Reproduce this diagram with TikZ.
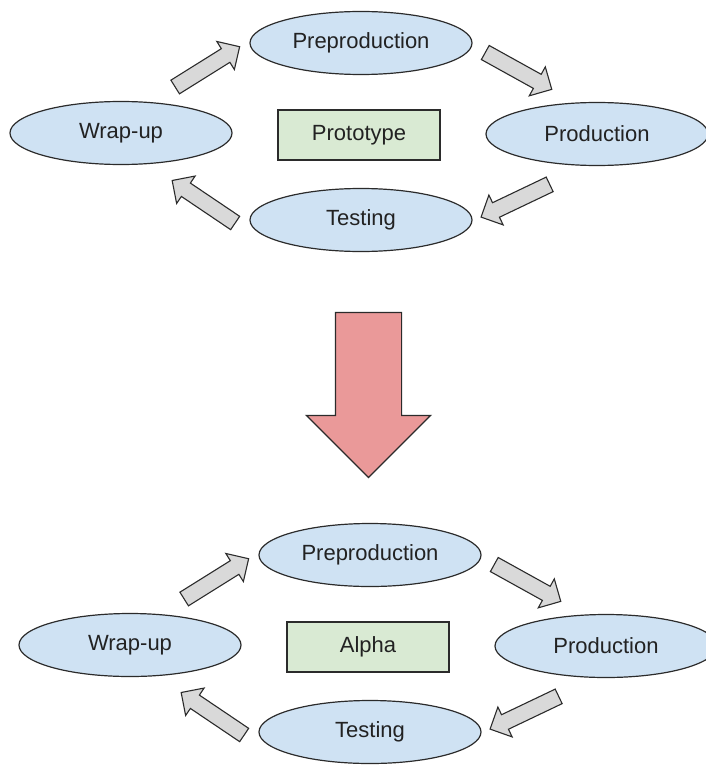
\documentclass[tikz,border=0pt]{standalone}
\usepackage{fontspec}
\setmainfont{Liberation Sans}
\usetikzlibrary{shapes.geometric,shapes.arrows}
\definecolor{phasefill}{HTML}{CFE2F3}
\definecolor{stagefill}{HTML}{D9EAD3}
\definecolor{stepfill}{HTML}{D9D9D9}
\definecolor{bigfill}{HTML}{EA9999}
\definecolor{edge}{HTML}{2B2B2B}
\definecolor{ink}{HTML}{222222}
\tikzset{
  phase/.style={ellipse, draw=edge, fill=phasefill, line width=1.2pt,
    minimum width=222pt, minimum height=63pt, inner sep=0pt,
    text=ink, font=\fontsize{22}{24}\selectfont},
  stage/.style={rectangle, draw=edge, fill=stagefill, line width=1.2pt,
    minimum width=162pt, minimum height=50pt, inner sep=0pt,
    text=ink, font=\fontsize{22}{24}\selectfont},
  steparrow/.style={single arrow, draw=edge, fill=stepfill, line width=1.1pt,
    inner sep=7.5pt, single arrow head extend=8.5pt, single arrow head indent=0pt,
    minimum height=76pt},
  bigarrow/.style={single arrow, draw=edge, fill=bigfill, line width=1.2pt,
    inner sep=32.5pt, single arrow head extend=29pt, single arrow head indent=0pt,
    minimum height=165pt}
}
% one production cycle: #1 = name prefix, #2 = label of the centre box
\newcommand{\drawcycle}[2]{%
  \node[phase] (#1pre)  at (361,43)  {Preproduction};
  \node[phase] (#1prod) at (597,134) {Production};
  \node[phase] (#1wrap) at (121,133) {Wrap-up};
  \node[phase] (#1test) at (361,220) {Testing};
  \node[stage] (#1box)  at (359,135) {#2};
  \node[steparrow, rotate=32]    (#1a1) at (204,69)  {};
  \node[steparrow, rotate=-29]   (#1a2) at (515,69)  {};
  \node[steparrow, rotate=205.5] (#1a3) at (519,199) {};
  \node[steparrow, rotate=146]   (#1a4) at (207,204) {};
}
\begin{document}
\begin{tikzpicture}[x=1pt,y=-1pt]
  \useasboundingbox (0,0) rectangle (706,765);
  \drawcycle{p}{Prototype}
  \node[bigarrow, rotate=-90] (shift) at (368.5,378.5) {};
  \begin{scope}[shift={(9,512)}]
    \drawcycle{a}{Alpha}
  \end{scope}
\end{tikzpicture}
\end{document}
